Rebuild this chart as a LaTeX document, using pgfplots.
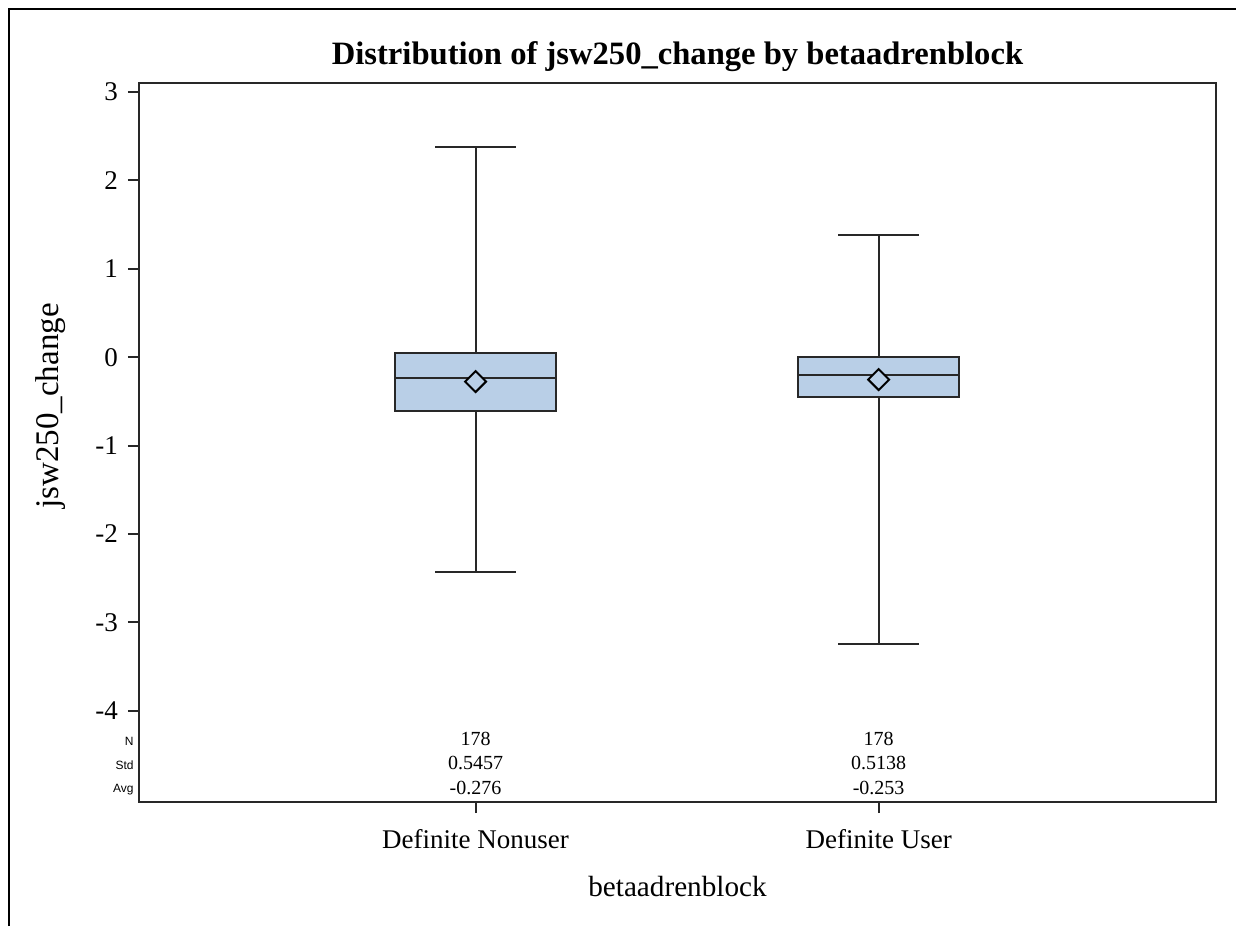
\documentclass[border=0pt]{standalone}
\usepackage{fontspec}
\setmainfont{Liberation Serif}
\newfontfamily\labsans{Liberation Sans}
\usepackage{pgfplots}
\pgfplotsset{compat=1.18}
\usepgfplotslibrary{statistics}
\definecolor{boxblue}{RGB}{185,207,231}
\definecolor{axisgray}{RGB}{40,40,40}
\begin{document}
\begin{tikzpicture}
\useasboundingbox (0,0) rectangle (618pt,463pt);
\draw[line width=1pt, black] (4.5pt,0) -- (4.5pt,458.5pt) -- (618pt,458.5pt);
\begin{axis}[
  at={(69.5pt,62pt)}, anchor=south west,
  width=538.5pt, height=359.5pt, scale only axis,
  xmin=0.165, xmax=2.837, ymin=-5.032, ymax=3.102,
  boxplot/draw direction=y,
  xtick={1,2}, xticklabels={Definite Nonuser, Definite User},
  ytick={-4,-3,-2,-1,0,1,2,3},
  xtick pos=bottom, ytick pos=left,
  tick align=outside, major tick length=5.5pt,
  every tick/.style={axisgray, line width=1pt},
  axis line style={axisgray, line width=1pt},
  /pgf/number format/assume math mode=true,
  ticklabel style={font=\fontsize{13.5}{16}\selectfont},
  yticklabel style={xshift=-1.5pt},
  xticklabel style={yshift=-4.5pt},
  title={\textbf{Distribution of jsw250\_change by betaadrenblock}},
  title style={font=\fontsize{16.3}{19}\selectfont, at={(axis description cs:0.5,1.0097)}, anchor=base},
  xlabel={betaadrenblock},
  xlabel style={font=\fontsize{14.6}{17}\selectfont, at={(axis description cs:0.5,-0.1321)}, anchor=base},
  ylabel={jsw250\_change},
  ylabel style={font=\fontsize{16.5}{19}\selectfont, at={(axis description cs:-0.075,0.5508)}, anchor=base, rotate=0},
  clip=false,
]
\addplot[boxplot prepared={draw position=1, lower whisker=-2.430, lower quartile=-0.609, median=-0.239, upper quartile=0.044, upper whisker=2.374, box extend=0.4, whisker extend=0.2}, fill=boxblue, draw=axisgray, line width=1pt, solid] coordinates {};
\addplot[boxplot prepared={draw position=2, lower whisker=-3.248, lower quartile=-0.454, median=-0.201, upper quartile=0.000, upper whisker=1.382, box extend=0.4, whisker extend=0.2}, fill=boxblue, draw=axisgray, line width=1pt, solid] coordinates {};
\addplot[only marks, mark=square*, mark size=3.7pt, mark options={rotate=45, line width=1pt, draw=black, fill=boxblue}] coordinates {(1,-0.276) (2,-0.253)};
% statistics table
\node[anchor=base, font=\fontsize{10}{12}\selectfont] at (axis cs:1,-4.388) {178};
\node[anchor=base, font=\fontsize{10}{12}\selectfont] at (axis cs:1,-4.659) {0.5457};
\node[anchor=base, font=\fontsize{10}{12}\selectfont] at (axis cs:1,-4.942) {-0.276};
\node[anchor=base, font=\fontsize{10}{12}\selectfont] at (axis cs:2,-4.388) {178};
\node[anchor=base, font=\fontsize{10}{12}\selectfont] at (axis cs:2,-4.659) {0.5138};
\node[anchor=base, font=\fontsize{10}{12}\selectfont] at (axis cs:2,-4.942) {-0.253};
\node[anchor=base east, inner sep=0pt, xshift=-2.5pt, font=\labsans\fontsize{6}{7}\selectfont] at (axis cs:0.165,-4.388) {N};
\node[anchor=base east, inner sep=0pt, xshift=-2.5pt, font=\labsans\fontsize{6}{7}\selectfont] at (axis cs:0.165,-4.659) {Std};
\node[anchor=base east, inner sep=0pt, xshift=-2.5pt, font=\labsans\fontsize{6}{7}\selectfont] at (axis cs:0.165,-4.925) {Avg};
\end{axis}
\end{tikzpicture}
\end{document}
